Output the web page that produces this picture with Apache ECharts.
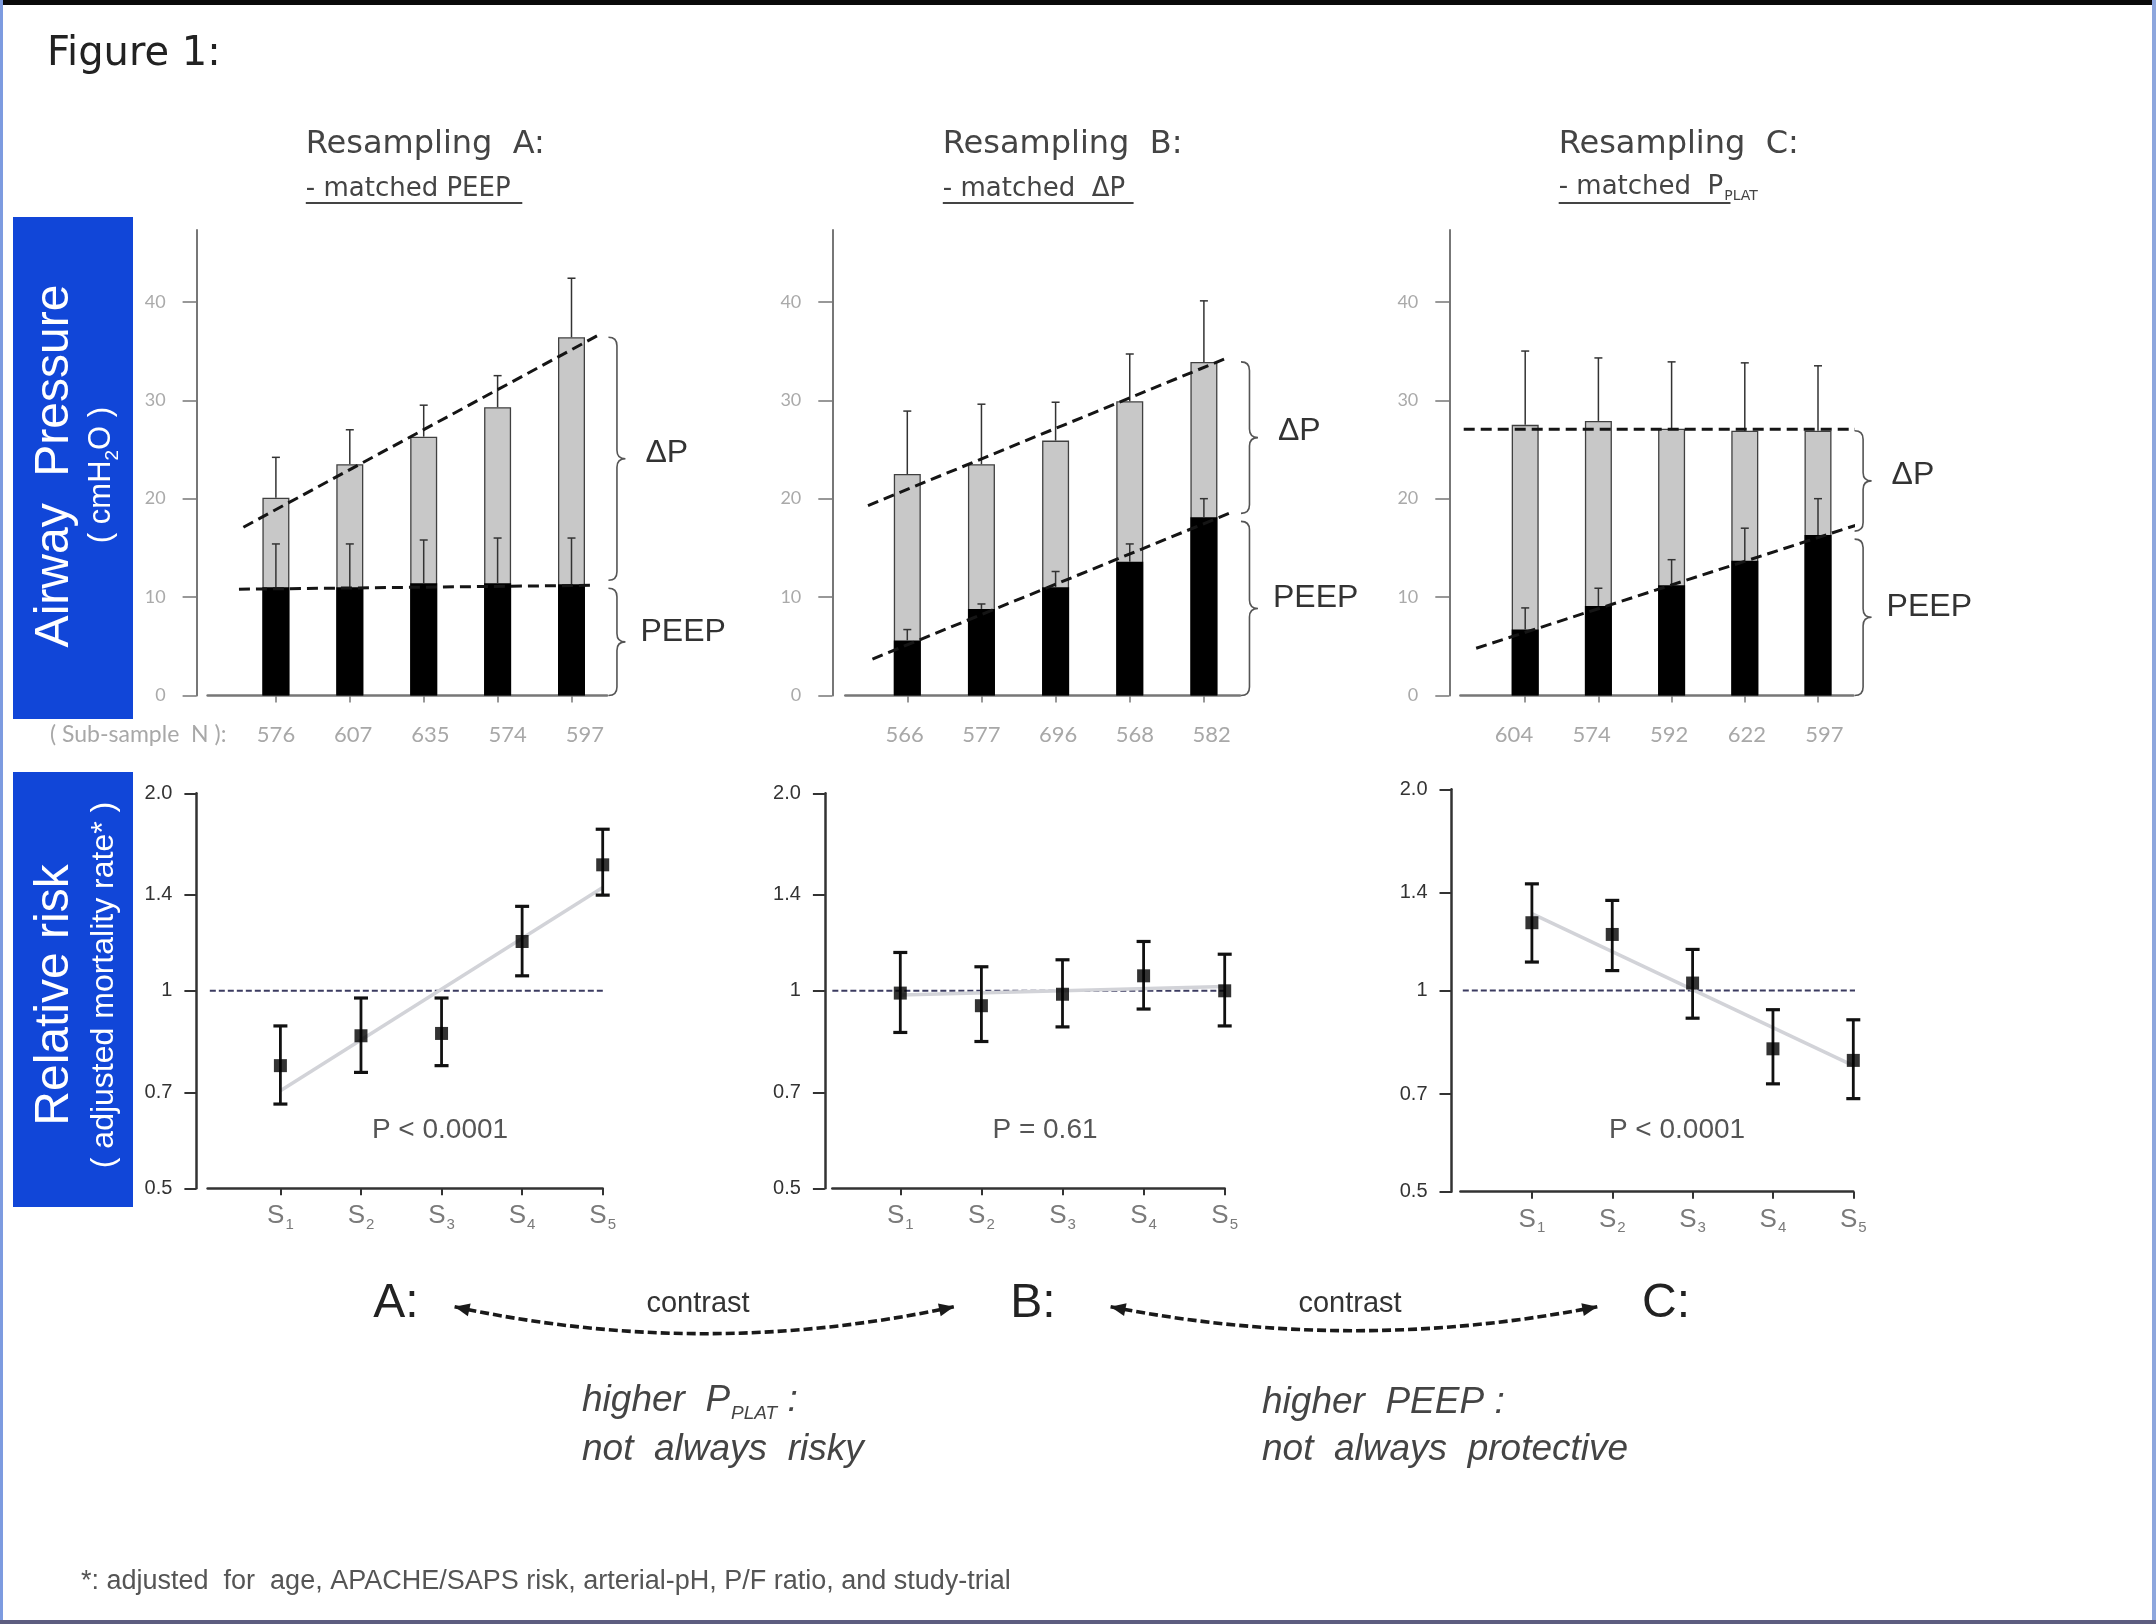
<!DOCTYPE html>
<html><head><meta charset="utf-8">
<script src="https://cdn.jsdelivr.net/npm/echarts@6/dist/echarts.min.js"></script>
<style>html,body{margin:0;padding:0;background:#fff}#c{width:2156px;height:1624px}</style>
</head><body><div id="c"></div>
<script>
// ---------------- DATA ----------------
const nA = [576, 607, 635, 574, 597];
const nB = [566, 577, 696, 568, 582];
const nC = [604, 574, 592, 622, 597];

const pplatA = [20.1, 23.5, 26.3, 29.3, 36.4];
const pplatSdA = [4.1, 3.5, 3.2, 3.2, 6.0];
const peepA = [11.0, 11.0, 11.4, 11.4, 11.3];
const peepSdA = [4.4, 4.4, 4.4, 4.6, 4.7];

const pplatB = [22.5, 23.5, 25.9, 29.9, 33.9];
const pplatSdB = [6.4, 6.1, 3.9, 4.8, 6.2];
const peepB = [5.6, 8.8, 11.0, 13.6, 18.1];
const peepSdB = [1.1, 0.5, 1.6, 1.8, 1.9];

const pplatC = [27.5, 27.9, 27.1, 26.9, 26.9];
const pplatSdC = [7.5, 6.4, 6.8, 6.9, 6.6];
const peepC = [6.7, 9.1, 11.2, 13.7, 16.3];
const peepSdC = [2.2, 1.8, 2.6, 3.3, 3.7];

const trendTopA = [[-0.44, 17.1], [4.36, 36.6]];
const trendPeepA = [[-0.50, 10.8], [4.33, 11.2]];
const trendTopB = [[-0.53, 19.3], [4.31, 34.3]];
const trendPeepB = [[-0.47, 3.7], [4.37, 18.6]];
const trendTopC = [[-0.84, 27.05], [4.51, 27.05]];
const trendPeepC = [[-0.67, 4.8], [4.54, 17.35]];

const sCats = ['S1', 'S2', 'S3', 'S4', 'S5'];
const rrA = [0.769, 0.854, 0.861, 1.189, 1.556];
const loA = [0.672, 0.751, 0.769, 1.054, 1.399];
const hiA = [0.884, 0.975, 0.975, 1.345, 1.763];
const fitA = [0.704, 1.437];

const rrB = [0.992, 0.949, 0.988, 1.054, 1.000];
const loB = [0.864, 0.837, 0.881, 0.938, 0.884];
const hiB = [1.144, 1.088, 1.115, 1.189, 1.137];
const fitB = [0.985, 1.015];

const rrC = [1.263, 1.213, 1.026, 0.818, 0.786];
const loC = [1.103, 1.071, 0.909, 0.725, 0.689];
const hiC = [1.444, 1.364, 1.152, 0.936, 0.904];
const fitC = [1.303, 0.772];

const pValues = ['P < 0.0001', 'P = 0.61', 'P < 0.0001'];
const pressureTicks = [0, 10, 20, 30, 40];
const rrTicks = [0.5, 0.7, 1, 1.4, 2];
const rrTickLabels = ['0.5', '0.7', '1', '1.4', '2.0'];

// ---------------- LAYOUT ----------------
const F_SANS = '"Liberation Sans", Arial, sans-serif';
const F_NARROW = '"Liberation Sans Narrow", "Liberation Sans", sans-serif';
const F_TITLE = '"DejaVu Sans", sans-serif';
const F_LATO = 'Lato, sans-serif';

const TOP_Y0 = 230, TOP_Y1 = 695.5, P_MAX = 47.3, BRACE_X = 4.5;
const topL = [
  {axis: 196.6, left: 207.6, right: 607, bar0: 275.9, sp: 73.9, labL: 276, labS: 77.2},
  {axis: 832.3, left: 845.3, right: 1240, bar0: 907.3, sp: 74.15, labL: 904.7, labS: 76.75},
  {axis: 1449.3, left: 1460.4, right: 1853.3, bar0: 1525.2, sp: 73.2, labL: 1514, labS: 77.6}
];
const botL = [
  {axis: 196.4, left: 207.6, s1: 280.4, s5: 602.7, top: 793.3, bottom: 1188.3, ref: [-0.876, 4.415], px: 440},
  {axis: 824.9, left: 832.3, s1: 900.3, s5: 1224.7, top: 793.3, bottom: 1188.3, ref: [-0.838, 4.32], px: 1045},
  {axis: 1451.5, left: 1460.4, s1: 1531.9, s5: 1853.3, top: 789.3, bottom: 1191.7, ref: [-0.86, 4.415], px: 1677}
];

const topData = [
  {n: nA, pplat: pplatA, pplatSd: pplatSdA, peep: peepA, peepSd: peepSdA, tTop: trendTopA, tPeep: trendPeepA},
  {n: nB, pplat: pplatB, pplatSd: pplatSdB, peep: peepB, peepSd: peepSdB, tTop: trendTopB, tPeep: trendPeepB},
  {n: nC, pplat: pplatC, pplatSd: pplatSdC, peep: peepC, peepSd: peepSdC, tTop: trendTopC, tPeep: trendPeepC}
];
const botData = [
  {rr: rrA, lo: loA, hi: hiA, fit: fitA},
  {rr: rrB, lo: loB, hi: hiB, fit: fitB},
  {rr: rrC, lo: loC, hi: hiC, fit: fitC}
];

function errTop(params, api) {
  const x = api.value(0), p0 = api.coord([x, api.value(1)]), p1 = api.coord([x, api.value(2)]);
  const st = {stroke: '#333', lineWidth: 1.5};
  return {type: 'group', children: [
    {type: 'line', shape: {x1: p0[0], y1: p0[1], x2: p1[0], y2: p1[1]}, style: st},
    {type: 'line', shape: {x1: p1[0] - 4, y1: p1[1], x2: p1[0] + 4, y2: p1[1]}, style: st}
  ]};
}
function errRR(params, api) {
  const x = api.value(0), pl = api.coord([x, api.value(1)]), ph = api.coord([x, api.value(2)]);
  const hw = 7, st = {stroke: '#111', lineWidth: 2.8};
  return {type: 'group', children: [
    {type: 'line', shape: {x1: pl[0], y1: pl[1], x2: ph[0], y2: ph[1]}, style: st},
    {type: 'line', shape: {x1: pl[0] - hw, y1: pl[1], x2: pl[0] + hw, y2: pl[1]}, style: {stroke: '#111', lineWidth: 3.2}},
    {type: 'line', shape: {x1: ph[0] - hw, y1: ph[1], x2: ph[0] + hw, y2: ph[1]}, style: {stroke: '#111', lineWidth: 3.2}}
  ]};
}
function bracePath(x, y1, y2, w) {
  const r = Math.min(w / 2, (y2 - y1) / 4), xm = x + w / 2, ym = (y1 + y2) / 2;
  return 'M' + x + ',' + y1 + ' Q' + xm + ',' + y1 + ' ' + xm + ',' + (y1 + r) +
    ' L' + xm + ',' + (ym - r) + ' Q' + xm + ',' + ym + ' ' + (x + w) + ',' + ym +
    ' Q' + xm + ',' + ym + ' ' + xm + ',' + (ym + r) + ' L' + xm + ',' + (y2 - r) +
    ' Q' + xm + ',' + y2 + ' ' + x + ',' + y2;
}
function braceRender(params, api) {
  const bx = api.value(0);
  const pT = api.coord([bx, api.value(1)]), pM = api.coord([bx, api.value(2)]), pB = api.coord([bx, 0]);
  const x = pT[0], w = 17, gap = 4;
  const st = {stroke: '#555', lineWidth: 1.6, fill: 'none'};
  return {type: 'group', children: [
    {type: 'path', shape: {pathData: bracePath(x, pT[1], pM[1] - gap, w)}, style: st},
    {type: 'path', shape: {pathData: bracePath(x, pM[1] + gap, pB[1], w)}, style: st},
    {type: 'text', x: x + w + 20, y: (pT[1] + pM[1]) / 2 - 8, style: {text: 'ΔP', fill: '#333', fontSize: 32, fontFamily: F_SANS, align: 'left', verticalAlign: 'middle'}},
    {type: 'text', x: x + w + 15, y: (pM[1] + pB[1]) / 2 - 8, style: {text: 'PEEP', fill: '#333', fontSize: 32, fontFamily: F_SANS, align: 'left', verticalAlign: 'middle'}}
  ]};
}

const grid = [], xAxis = [], yAxis = [], series = [];
topL.forEach((L, p) => {
  const D = topData[p];
  grid[p] = {left: L.left, top: TOP_Y0, width: L.right - L.left, height: TOP_Y1 - TOP_Y0, containLabel: false, outerBoundsMode: 'none'};
  grid[3 + p] = {left: L.left, top: TOP_Y1, width: L.right - L.left, height: 1, containLabel: false, outerBoundsMode: 'none'};
  xAxis[p] = {gridIndex: p, type: 'value', min: (L.left - L.bar0) / L.sp, max: (L.right - L.bar0) / L.sp,
    axisLine: {show: true, onZero: false, lineStyle: {color: '#777', width: 2.5}},
    axisTick: {show: true, customValues: [0, 1, 2, 3, 4], length: 7, lineStyle: {color: '#777', width: 1.5}},
    axisLabel: {show: false}, splitLine: {show: false}};
  xAxis[3 + p] = {gridIndex: 3 + p, type: 'value', min: (L.left - L.labL) / L.labS, max: (L.right - L.labL) / L.labS,
    axisLine: {show: false}, axisTick: {show: false}, splitLine: {show: false},
    axisLabel: {show: true, customValues: [0, 1, 2, 3, 4], formatter: v => String(D.n[Math.round(v)]),
      color: '#a8a8a8', fontSize: 22, fontFamily: F_LATO, margin: 27}};
  yAxis[p] = {gridIndex: p, type: 'value', min: 0, max: P_MAX, offset: L.left - L.axis,
    axisLine: {show: true, onZero: false, lineStyle: {color: '#777', width: 2}},
    axisTick: {show: true, customValues: pressureTicks, length: 14, lineStyle: {color: '#777', width: 1.5}},
    axisLabel: {show: true, customValues: pressureTicks, color: '#aaa', fontSize: 18, fontFamily: F_LATO, margin: 31},
    splitLine: {show: false}};
  yAxis[3 + p] = {gridIndex: 3 + p, type: 'value', show: false};

  series.push({type: 'bar', xAxisIndex: p, yAxisIndex: p, barWidth: 27, barGap: '-100%',
    data: D.pplat.map((v, i) => [i, v]), itemStyle: {color: '#c8c8c8', borderColor: '#404040', borderWidth: 1.3}, z: 2, silent: true});
  series.push({type: 'bar', xAxisIndex: p, yAxisIndex: p, barWidth: 27, barGap: '-100%',
    data: D.peep.map((v, i) => [i, v]), itemStyle: {color: '#000'}, z: 2, silent: true});
  series.push({type: 'custom', xAxisIndex: p, yAxisIndex: p, renderItem: errTop, encode: {x: 0, y: [1, 2]},
    data: D.pplat.map((v, i) => [i, v, v + D.pplatSd[i]]), z: 3, silent: true});
  series.push({type: 'custom', xAxisIndex: p, yAxisIndex: p, renderItem: errTop, encode: {x: 0, y: [1, 2]},
    data: D.peep.map((v, i) => [i, v, v + D.peepSd[i]]), z: 3, silent: true});
  [D.tTop, D.tPeep].forEach(t => series.push({type: 'line', xAxisIndex: p, yAxisIndex: p, data: t, symbol: 'none', clip: false,
    lineStyle: {color: '#151515', width: 3, type: [11, 6]}, z: 4, silent: true}));
  series.push({type: 'custom', xAxisIndex: p, yAxisIndex: p, renderItem: braceRender, encode: {x: 0, y: [1, 2]}, clip: false,
    data: [[BRACE_X, D.pplat[4], D.peep[4]]], z: 3, silent: true});
});

botL.forEach((L, p) => {
  const D = botData[p], g = 6 + p, sp = (L.s5 - L.s1) / 4;
  grid[g] = {left: L.left, top: L.top, width: L.s5 - L.left, height: L.bottom - L.top, containLabel: false, outerBoundsMode: 'none'};
  xAxis[g] = {gridIndex: g, type: 'value', min: (L.left - L.s1) / sp, max: 4,
    axisLine: {show: true, onZero: false, lineStyle: {color: '#333', width: 2.5}},
    axisTick: {show: true, customValues: [0, 1, 2, 3, 4], length: 7, lineStyle: {color: '#333', width: 2}},
    axisLabel: {show: true, customValues: [0, 1, 2, 3, 4], margin: 15,
      formatter: v => { const s = sCats[Math.round(v)]; return '{s|' + s[0] + '}{n|' + s.slice(1) + '}'; },
      rich: {
        s: {fontSize: 26, fontFamily: F_NARROW, color: '#7a7a7a', verticalAlign: 'top', lineHeight: 29},
        n: {fontSize: 15, fontFamily: F_NARROW, color: '#7a7a7a', verticalAlign: 'top', lineHeight: 15, padding: [14, 0, 0, 1]}
      }},
    splitLine: {show: false}};
  yAxis[g] = {gridIndex: g, type: 'log', logBase: 10, min: 0.5, max: 2, offset: L.left - L.axis,
    axisLine: {show: true, onZero: false, lineStyle: {color: '#333', width: 2.5}},
    axisTick: {show: true, customValues: rrTicks, length: 12, lineStyle: {color: '#333', width: 2}},
    axisLabel: {show: true, customValues: rrTicks, color: '#333', fontSize: 20, fontFamily: F_SANS, margin: 24,
      formatter: v => { let k = 0; rrTicks.forEach((t, i) => { if (Math.abs(t - v) < Math.abs(rrTicks[k] - v)) k = i; }); return rrTickLabels[k]; }},
    splitLine: {show: false}, minorTick: {show: false}, minorSplitLine: {show: false}};

  series.push({type: 'line', xAxisIndex: g, yAxisIndex: g, data: [[L.ref[0], 1], [L.ref[1], 1]], symbol: 'none', clip: false,
    lineStyle: {color: '#3b3b60', width: 2, type: [6, 3]}, z: 2, silent: true});
  series.push({type: 'line', xAxisIndex: g, yAxisIndex: g, data: [[0, D.fit[0]], [4, D.fit[1]]], symbol: 'none', clip: false,
    lineStyle: {color: '#d2d3d8', width: 3.5}, z: 3, silent: true});
  series.push({type: 'custom', xAxisIndex: g, yAxisIndex: g, renderItem: errRR, encode: {x: 0, y: [1, 2]},
    data: D.rr.map((v, i) => [i, D.lo[i], D.hi[i]]), z: 4, silent: true});
  series.push({type: 'scatter', xAxisIndex: g, yAxisIndex: g, data: D.rr.map((v, i) => [i, v]), symbol: 'rect', symbolSize: 13,
    itemStyle: {color: '#000'}, z: 5, silent: true});
});

// ---------------- ANNOTATIONS ----------------
const G = [];
function txt(x, y, text, o) {
  G.push({type: 'text', x: x, y: y, rotation: o.rot || 0, silent: true,
    style: Object.assign({text: text, align: o.align || 'left', verticalAlign: 'middle'}, o.style)});
}
function arrow(x1, x2, y, sag) {
  const cx = (x1 + x2) / 2, cy = y + 2 * sag;
  G.push({type: 'bezierCurve', silent: true, shape: {x1: x1, y1: y, x2: x2, y2: y, cpx1: cx, cpy1: cy},
    style: {stroke: '#1a1a1a', lineWidth: 3.6, lineDash: [9, 4], fill: null}});
  [[x1, y], [x2, y]].forEach(([tx, ty]) => {
    const dx = cx - tx, dy = cy - ty, len = Math.hypot(dx, dy), ux = dx / len, uy = dy / len, px = -uy, py = ux;
    const Lh = 15, W = 6.5;
    G.push({type: 'polygon', silent: true, shape: {points: [[tx, ty], [tx + ux * Lh + px * W, ty + uy * Lh + py * W], [tx + ux * Lh - px * W, ty + uy * Lh - py * W]]},
      style: {fill: '#1a1a1a'}});
  });
}
// frame
G.push({type: 'rect', shape: {x: 0, y: 0, width: 2156, height: 5}, style: {fill: '#0a0a0a'}, silent: true});
G.push({type: 'rect', shape: {x: 0, y: 0, width: 3, height: 1624}, style: {fill: '#7d9be0'}, silent: true});
G.push({type: 'rect', shape: {x: 2152, y: 0, width: 4, height: 1624}, style: {fill: '#8da6dd'}, silent: true});
G.push({type: 'rect', shape: {x: 0, y: 1620, width: 2156, height: 4}, style: {fill: '#5d5d80'}, silent: true});
// figure label
txt(47, 55, 'Figure 1:', {style: {fill: '#222', fontSize: 40, fontFamily: F_TITLE}});
// blue boxes
G.push({type: 'rect', shape: {x: 13, y: 217, width: 120, height: 502}, style: {fill: '#1146d8'}, silent: true});
G.push({type: 'rect', shape: {x: 13, y: 772, width: 120, height: 435}, style: {fill: '#1146d8'}, silent: true});
txt(55, 466, 'Airway  Pressure', {align: 'center', rot: Math.PI / 2, style: {fill: '#fff', fontSize: 48, fontFamily: F_SANS}});
txt(104, 475, '{a|( cmH}{b|2}{a|O )}', {align: 'center', rot: Math.PI / 2, style: {fill: '#fff', rich: {
  a: {fill: '#fff', fontSize: 31, fontFamily: F_SANS, verticalAlign: 'top', lineHeight: 36},
  b: {fill: '#fff', fontSize: 19, fontFamily: F_SANS, verticalAlign: 'top', lineHeight: 19, padding: [17, 0, 0, 0]}}}});
txt(55, 995, 'Relative risk', {align: 'center', rot: Math.PI / 2, style: {fill: '#fff', fontSize: 48, fontFamily: F_SANS}});
txt(104, 985, '( adjusted mortality rate* )', {align: 'center', rot: Math.PI / 2, style: {fill: '#fff', fontSize: 32, fontFamily: F_SANS}});
// titles
const titleLeft = [305.8, 942.8, 1558.7];
const titleText = ['Resampling  A:', 'Resampling  B:', 'Resampling  C:'];
const subText = ['- matched PEEP', '- matched  ΔP', '{a|- matched  P}{b|PLAT}'];
const underline = [[305.8, 522.3], [942.8, 1133.6], [1558.7, 1730.5]];
titleLeft.forEach((x, i) => {
  txt(x, 145, titleText[i], {style: {fill: '#444', fontSize: 32, fontFamily: F_TITLE}});
  txt(x, 189, subText[i], {style: {fill: '#444', fontSize: 26, fontFamily: F_TITLE, rich: {
    a: {fill: '#444', fontSize: 26, fontFamily: F_TITLE, verticalAlign: 'top', lineHeight: 30},
    b: {fill: '#444', fontSize: 14, fontFamily: F_TITLE, verticalAlign: 'top', lineHeight: 14, padding: [15, 0, 0, 1]}}}});
  G.push({type: 'line', silent: true, shape: {x1: underline[i][0], y1: 203, x2: underline[i][1], y2: 203}, style: {stroke: '#444', lineWidth: 2}});
});
txt(50, 735, '( Sub-sample  N ):', {style: {fill: '#a8a8a8', fontSize: 23, fontFamily: F_LATO}});
// p values
botL.forEach((L, p) => txt(L.px, 1130, pValues[p], {align: 'center', style: {fill: '#555', fontSize: 28, fontFamily: F_SANS}}));
// contrasts
txt(396, 1304, 'A:', {align: 'center', style: {fill: '#222', fontSize: 48, fontFamily: F_SANS}});
txt(1033, 1304, 'B:', {align: 'center', style: {fill: '#222', fontSize: 48, fontFamily: F_SANS}});
txt(1666, 1304, 'C:', {align: 'center', style: {fill: '#222', fontSize: 48, fontFamily: F_SANS}});
arrow(454.6, 954, 1306.7, 27);
arrow(1110.6, 1597.3, 1306.7, 24);
txt(698, 1304, 'contrast', {align: 'center', style: {fill: '#333', fontSize: 29, fontFamily: F_SANS}});
txt(1350, 1304, 'contrast', {align: 'center', style: {fill: '#333', fontSize: 29, fontFamily: F_SANS}});
const itA = {fill: '#444', fontSize: 37, fontStyle: 'italic', fontFamily: F_SANS, verticalAlign: 'top', lineHeight: 41};
txt(582, 1403, '{a|higher  P}{b|PLAT}{a| :}', {style: {fill: '#444', rich: {
  a: itA, b: {fill: '#444', fontSize: 19, fontStyle: 'italic', fontFamily: F_SANS, verticalAlign: 'top', lineHeight: 19, padding: [22, 0, 0, 1]}}}});
txt(582, 1450, 'not  always  risky', {style: {fill: '#444', fontSize: 37, fontStyle: 'italic', fontFamily: F_SANS}});
txt(1262, 1403, 'higher  PEEP :', {style: {fill: '#444', fontSize: 37, fontStyle: 'italic', fontFamily: F_SANS}});
txt(1262, 1450, 'not  always  protective', {style: {fill: '#444', fontSize: 37, fontStyle: 'italic', fontFamily: F_SANS}});
txt(81, 1582, '*: adjusted  for  age, APACHE/SAPS risk, arterial-pH, P/F ratio, and study-trial', {style: {fill: '#555', fontSize: 27, fontFamily: F_SANS}});

const chart = echarts.init(document.getElementById('c'), null, {width: 2156, height: 1624});
chart.setOption({
  backgroundColor: '#fff',
  animation: false,
  grid: grid, xAxis: xAxis, yAxis: yAxis, series: series,
  graphic: G
});
</script></body></html>
